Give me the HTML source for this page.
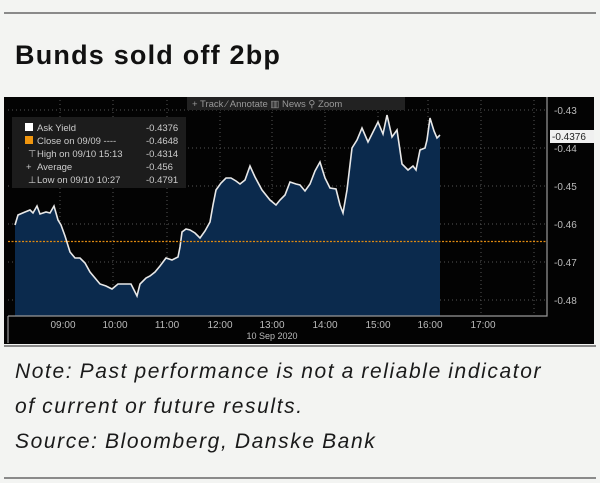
<!DOCTYPE html>
<html><head><meta charset="utf-8"><style>
body{margin:0;width:600px;height:483px;background:#f3f4f2;font-family:"Liberation Sans",sans-serif;position:relative;overflow:hidden}
.t{position:absolute;left:15px;top:40px;font-size:27px;font-weight:bold;color:#111;letter-spacing:1.2px}
.n{position:absolute;left:15px;top:354px;font-size:21px;font-style:italic;color:#1a1a1a;line-height:35px;letter-spacing:1.6px;word-spacing:-1px}
.hr{position:absolute;left:4px;width:592px;height:2px;background:#8a8a8a}
</style></head><body>
<div class="hr" style="top:12px"></div>
<div class="t">Bunds sold off 2bp</div>
<svg style="position:absolute;left:0;top:0" width="600" height="483" font-family="Liberation Sans,sans-serif">
<rect x="4" y="97" width="590" height="247" fill="#030303"/>
<g stroke="#555" stroke-dasharray="1,3" stroke-width="1">
<line x1="8" x2="547" y1="110" y2="110"/><line x1="8" x2="547" y1="148" y2="148"/><line x1="8" x2="547" y1="186" y2="186"/><line x1="8" x2="547" y1="224" y2="224"/><line x1="8" x2="547" y1="262" y2="262"/><line x1="8" x2="547" y1="300" y2="300"/>
<line x1="60" x2="60" y1="100" y2="316"/><line x1="113" x2="113" y1="100" y2="316"/><line x1="167" x2="167" y1="100" y2="316"/><line x1="220" x2="220" y1="100" y2="316"/><line x1="272" x2="272" y1="100" y2="316"/><line x1="325" x2="325" y1="100" y2="316"/><line x1="378" x2="378" y1="100" y2="316"/><line x1="428" x2="428" y1="100" y2="316"/><line x1="481" x2="481" y1="100" y2="316"/><line x1="534" x2="534" y1="100" y2="316"/>
</g>
<polygon fill="#0b2a4d" points="15,316 15,225 18,215 25,212 30,210 33,213 37,206 40,214 46,212 50,213 54,206 58,220 61,225 65,236 70,252 75,258 80,258 85,263 90,272 95,278 100,284 106,286 112,289 118,284 125,284 131,284 134,290 137,296 140,284 146,278 150,276 155,272 160,266 166,258 172,260 178,257 180,247 182,232 186,229 190,230 195,233 200,238 205,231 210,222 213,205 216,190 221,183 226,178 231,178 236,181 240,184 245,180 250,166 255,177 262,190 270,200 276,205 280,200 285,195 290,182 296,184 300,185 305,191 310,184 315,171 320,162 325,178 330,188 336,189 340,205 343,213 347,190 352,148 357,140 362,128 368,142 373,132 378,122 383,134 387,115 392,137 397,130 402,164 408,170 413,166 416,170 420,150 425,148 427,140 430,118 434,131 437,138 440,135 440,316"/>
<polyline fill="none" stroke="#e8e8e8" stroke-width="1.6" points="15,225 18,215 25,212 30,210 33,213 37,206 40,214 46,212 50,213 54,206 58,220 61,225 65,236 70,252 75,258 80,258 85,263 90,272 95,278 100,284 106,286 112,289 118,284 125,284 131,284 134,290 137,296 140,284 146,278 150,276 155,272 160,266 166,258 172,260 178,257 180,247 182,232 186,229 190,230 195,233 200,238 205,231 210,222 213,205 216,190 221,183 226,178 231,178 236,181 240,184 245,180 250,166 255,177 262,190 270,200 276,205 280,200 285,195 290,182 296,184 300,185 305,191 310,184 315,171 320,162 325,178 330,188 336,189 340,205 343,213 347,190 352,148 357,140 362,128 368,142 373,132 378,122 383,134 387,115 392,137 397,130 402,164 408,170 413,166 416,170 420,150 425,148 427,140 430,118 434,131 437,138 440,135"/>
<line x1="8" x2="547" y1="241.5" y2="241.5" stroke="#e08a10" stroke-width="1.3" stroke-dasharray="2,1.5"/>
<path d="M8,316 H547 V97 M8,316 V343" stroke="#999" fill="none" stroke-width="1.2"/>
<g fill="#bbb" font-size="10" text-anchor="start">
<text x="554" y="114">-0.43</text><text x="554" y="152">-0.44</text><text x="554" y="190">-0.45</text><text x="554" y="228">-0.46</text><text x="554" y="266">-0.47</text><text x="554" y="304">-0.48</text>
</g>
<rect x="550" y="130" width="44" height="13" fill="#f0f0f0"/>
<text x="552" y="140" font-size="10" fill="#222">-0.4376</text>
<g fill="#bbb" font-size="10" text-anchor="middle">
<text x="63" y="328">09:00</text><text x="115" y="328">10:00</text><text x="167" y="328">11:00</text><text x="220" y="328">12:00</text><text x="272" y="328">13:00</text><text x="325" y="328">14:00</text><text x="378" y="328">15:00</text><text x="430" y="328">16:00</text><text x="483" y="328">17:00</text>
<text x="272" y="339" font-size="9">10 Sep 2020</text>
</g>
<rect x="187" y="97" width="218" height="13" fill="#222"/>
<text x="192" y="107" font-size="9.5" fill="#999">+ Track  ⁄ Annotate  ▥ News  ⚲ Zoom</text>
<rect x="12" y="117" width="174" height="71" fill="#1c1c1c"/>
<g font-size="9.5" fill="#ccc">
<rect x="25" y="123" width="8" height="8" fill="#fff"/><text x="37" y="131">Ask Yield</text><text x="146" y="131">-0.4376</text>
<rect x="25" y="136" width="8" height="8" fill="#f0960f"/><text x="37" y="144">Close on 09/09 ----</text><text x="146" y="144">-0.4648</text>
<text x="28" y="157">⊤</text><text x="37" y="157">High on 09/10 15:13</text><text x="146" y="157">-0.4314</text>
<text x="26" y="170">+</text><text x="37" y="170">Average</text><text x="146" y="170">-0.456</text>
<text x="28" y="183">⊥</text><text x="37" y="183">Low on 09/10 10:27</text><text x="146" y="183">-0.4791</text>
</g>
</svg>
<div class="hr" style="top:345px"></div>
<div class="n">Note: Past performance is not a reliable indicator<br>of current or future results.<br>Source: Bloomberg, Danske Bank</div>
<div class="hr" style="top:477px"></div>
</body></html>
